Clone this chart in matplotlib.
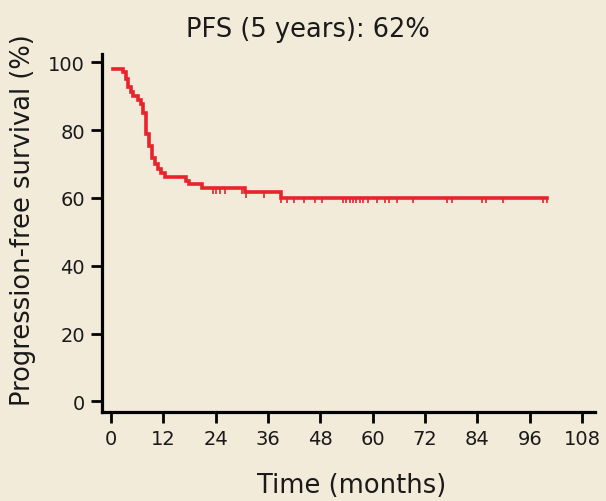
import numpy as np
import matplotlib
matplotlib.use("Agg")
import matplotlib.pyplot as plt

# KM curve (months, % progression-free)
event_times = [0.4, 2.8, 3.4, 4.05, 4.66, 5.12, 6.27, 7.03, 7.41, 8.18, 8.79,
               9.33, 10.09, 10.85, 11.62, 12.38, 17.35, 17.96, 20.8, 30.7, 39.1]
survival = [98.1, 97.1, 95.0, 92.8, 91.3, 90.1, 88.9, 87.6, 85.2, 78.8, 75.3,
            71.9, 69.9, 68.4, 67.3, 66.3, 65.0, 64.0, 63.0, 61.7, 60.1]
end_time = 100.0

censor_times = [23.5, 24.2, 25.0, 26.1, 30.0, 31.1, 35.2, 39.1, 40.4, 42.0,
                44.3, 46.8, 48.5, 53.3, 54.0, 54.8, 55.6, 56.3, 57.1, 57.9,
                59.0, 60.9, 62.8, 63.8, 65.7, 69.2, 77.0, 78.1, 85.0, 86.0,
                89.8, 99.1, 99.9]

xticks = [0, 12, 24, 36, 48, 60, 72, 84, 96, 108]
yticks = [0, 20, 40, 60, 80, 100]

bg = "#f2ebda"
red = "#e8232b"
txt = "#1a1a1a"

W, H = 606, 502
fig = plt.figure(figsize=(W / 100, H / 100), dpi=100, facecolor=bg)
ax = fig.add_axes([0.168, 0.177, 0.814, 0.713])
ax.set_facecolor(bg)

t = np.array(event_times + [end_time])
s = np.array(survival + [survival[-1]])
ax.step(t, s, where="post", color=red, lw=2.6, solid_joinstyle="miter")

# censor marks hang down from the curve
ct = np.array(censor_times)
idx = np.searchsorted(np.array(event_times), ct, side="right") - 1
cs = np.array(survival)[idx]
ax.vlines(ct, cs - 1.7, cs, color=red, lw=1.2)

ax.set_xlim(-2.06, 111)
ax.set_ylim(-3.2, 102.4)
ax.set_xticks(xticks)
ax.set_yticks(yticks)

for sp in ["top", "right"]:
    ax.spines[sp].set_visible(False)
for sp in ["left", "bottom"]:
    ax.spines[sp].set_linewidth(2.3)
    ax.spines[sp].set_color("black")

ax.tick_params(direction="out", length=8, width=2, colors="black",
               labelcolor=txt, labelsize=14, pad=4)

fig.text(308 / W, 1 - 37 / H, "PFS (5 years): 62%", fontsize=18.5,
         color=txt, ha="center", va="baseline")
fig.text(352 / W, 1 - 493 / H, "Time (months)", fontsize=18.5,
         color=txt, ha="center", va="baseline")
fig.text(23 / W, 1 - 220 / H, "Progression-free survival (%)", fontsize=18.5,
         color=txt, ha="center", va="center", rotation=90)

fig.savefig("out.png", dpi=100, facecolor=bg)
